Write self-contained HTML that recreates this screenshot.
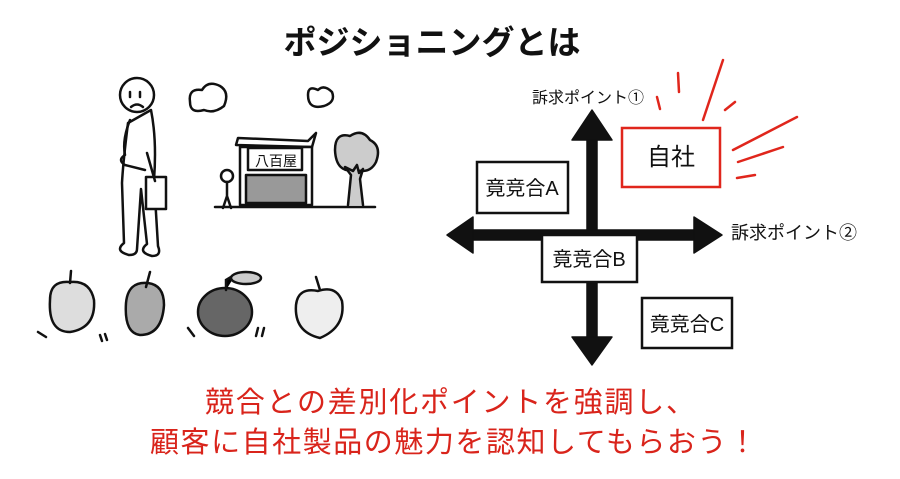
<!DOCTYPE html>
<html><head><meta charset="utf-8"><style>
body{margin:0;background:#fff;}
svg{display:block}
text{font-family:"Liberation Sans","Noto Sans CJK JP",sans-serif;}
</style></head><body>
<svg width="900" height="479" viewBox="0 0 900 479" xmlns="http://www.w3.org/2000/svg">
<rect width="900" height="479" fill="#fff"/>
<text x="432" y="54" font-size="33" font-weight="bold" text-anchor="middle" fill="#111">ポジショニングとは</text>

<g stroke="#111" stroke-width="2.5" fill="#fff" stroke-linejoin="round" stroke-linecap="round">
<circle cx="137" cy="95" r="17"/>
<path d="M130 92v5M140 92v5M131 107q6-5 12 0" fill="none"/>
<path d="M128 123q-5 40 -6 60 l2 60 q-10 8 5 12 q8 0 8-6 l4-60 l6 55 q-10 8 5 12 q10 0 6-10 l-4-66 q3-40 -3-70 z"/>
<path d="M130 120q-8 20 -5 35 q-8 5 0 10 l20 5" fill="none"/>
<rect x="146" y="177" width="20" height="32"/>
<path d="M147 153l8 28" fill="none"/>
<path d="M190 102q-2-14 12-12q6-10 18-4q10 6 4 20q-10 8 -20 4q-14 4 -14-8z"/>
<path d="M308 95q0-10 10-5q6-6 14 2q4 10 -8 14q-16 4 -16-11z"/>
<path d="M238 138l70 3 l8-8 l-4 14 l-76-2z"/>
<rect x="240" y="147" width="72" height="58"/>
<rect x="248" y="148" width="54" height="22"/>
<path d="M246 175 l60 0 v28 h-60z" fill="#999"/>
<text x="276" y="166" font-size="14" fill="#111" stroke="none" text-anchor="middle">八百屋</text>
<circle cx="227" cy="176" r="6"/>
<path d="M227 182v14l-4 12M227 196l4 12" fill="none"/>
<path d="M215 207h160" fill="none"/>
<path d="M335 150q0-18 15-14q12-8 20 4q12 6 6 22q-6 12 -20 8q-20 4 -21-20z" fill="#ccc"/>
<path d="M348 205l3-30l-6-8l8 4l4-6l2 8l4-4l-3 10l3 26" fill="#ccc"/>
</g>
<g stroke="#111" stroke-width="2.5" stroke-linecap="round">
<path d="M50 300q0-20 20-18q20-2 24 18q2 28 -24 32q-22 0 -20-32z" fill="#ddd"/>
<path d="M70 283l1-12" />
<path d="M126 303q2-22 22-20q16 2 16 22q-2 30 -24 30q-16 -2 -14-32z" fill="#aaa"/>
<path d="M146 287l4-15"/>
<ellipse cx="225" cy="312" rx="27" ry="24" fill="#666"/>
<path d="M226 290v-10l10-6"/><ellipse cx="246" cy="278" rx="15" ry="6" fill="#ccc"/>
<path d="M296 305q2-18 22-14q18-6 24 10q4 26 -22 37q-26-6 -24-33z" fill="#eee"/>
<path d="M320 290l-4-13"/>
<path d="M38 332l8 5M100 335l2 6M105 334l2 6M188 328l6 8M258 328l-2 8M264 328l-2 8" fill="none"/>
</g>

<g fill="#111" stroke="#111" stroke-width="1.5" stroke-linejoin="round">
<rect x="587" y="130" width="10" height="215"/>
<path d="M592 110l-20 30h40z"/>
<path d="M592 365l-20-28h40z"/>
<rect x="465" y="230" width="240" height="10"/>
<path d="M447 235l26-18v36z"/>
<path d="M722 235l-28-18v36z"/>
</g>
<g fill="#fff" stroke="#111" stroke-width="2.5">
<rect x="477" y="162" width="91" height="51"/>
<rect x="542" y="235" width="95" height="47"/>
<rect x="642" y="298" width="90" height="50"/>
</g>
<rect x="622" y="128" width="98" height="59" fill="#fff" stroke="#e0261c" stroke-width="2.5"/>
<g stroke="#e0261c" stroke-width="2.5" stroke-linecap="round">
<path d="M657 97l3 12M678 73l1 19M703 120l20-60M725 110l10-8M733 150l64-33M738 162l45-15M737 178l18-3"/>
</g>
<g font-size="20" fill="#111" text-anchor="middle">
<text x="522" y="195">竟竞合A</text>
<text x="589" y="266">竟竞合B</text>
<text x="687" y="331">竟竞合C</text>
<text x="671" y="165" font-size="24">自社</text>
</g>
<text x="588" y="103" font-size="16" text-anchor="middle" fill="#111">訴求ポイント①</text>
<text x="794" y="239" font-size="18" text-anchor="middle" fill="#111">訴求ポイント②</text>

<g font-size="29" fill="#d9241b">
<text x="205" y="412" textLength="490" lengthAdjust="spacing">競合との差別化ポイントを強調し、</text>
<text x="150" y="452" textLength="607" lengthAdjust="spacing">顧客に自社製品の魅力を認知してもらおう！</text>
</g>
</svg>
</body></html>
